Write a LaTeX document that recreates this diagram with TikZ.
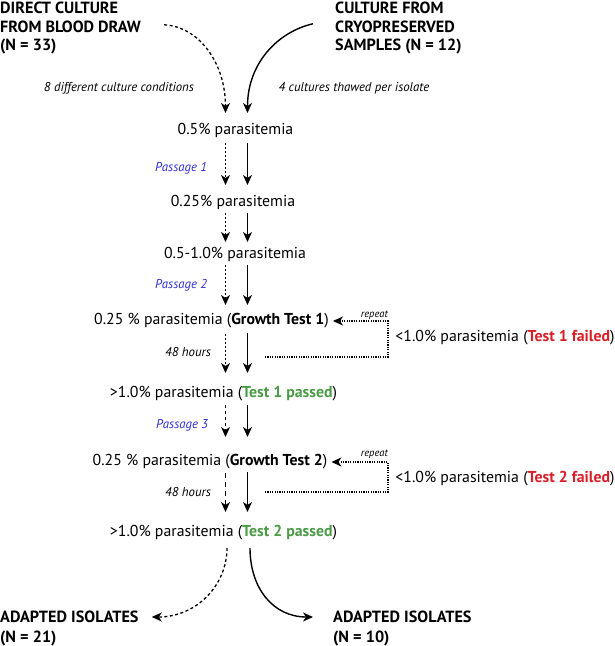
\documentclass[tikz,border=0pt]{standalone}
\usepackage{fontspec}
\setmainfont{PT Sans}
\usetikzlibrary{arrows.meta,calc}
\definecolor{pblue}{HTML}{2E2ED0}
\definecolor{pgreen}{HTML}{4A9A46}
\definecolor{pred}{HTML}{D81E26}
\tikzset{
  txt/.style={inner sep=0pt, font=\fontsize{15.8}{18}\selectfont},
  head/.style={inner sep=0pt, align=left, font=\bfseries\fontsize{16.2}{18.5}\selectfont},
  headb/.style={inner sep=0pt, align=left, font=\bfseries\fontsize{16.2}{20}\selectfont},
  lbl/.style={inner sep=0pt, font=\itshape\fontsize{12.8}{14}\selectfont},
  plbl/.style={lbl, text=pblue},
  rep/.style={inner sep=0pt, font=\itshape\fontsize{10.5}{11}\selectfont},
  tipped/.style={-{Stealth[length=10pt,width=9pt,inset=3pt]}},
  solidarr/.style={tipped, line width=1.4pt},
  dotarr/.style={tipped, line width=1.4pt, dash pattern=on 2pt off 2pt},
  dasharrA/.style={tipped, line width=1.4pt, dash pattern=on 3pt off 3pt},
  dasharrB/.style={tipped, line width=1.4pt, dash pattern=on 5pt off 4pt},
  curvedash/.style={tipped, line width=1.3pt, dash pattern=on 3pt off 2.5pt},
  loopline/.style={line width=1.2pt, dash pattern=on 1.2pt off 1.2pt},
  looparr/.style={loopline, tipped},
}
\begin{document}
\begin{tikzpicture}[x=1pt,y=-1pt]
\useasboundingbox (0,0) rectangle (614,646);

\coordinate (xl) at (225.5,0);
\coordinate (xr) at (247.5,0);

% headings
\node[head, anchor=north west] (h1) at (0,2) {DIRECT CULTURE\\FROM BLOOD DRAW\\(N = 33)};
\node[head, anchor=north west] (h2) at (335,2) {CULTURE FROM\\CRYOPRESERVED\\SAMPLES (N = 12)};
\node[headb, anchor=north west] (h3) at (0,611) {ADAPTED ISOLATES\\(N = 21)};
\node[headb, anchor=north west] (h4) at (333,611) {ADAPTED ISOLATES\\(N = 10)};

% labels
\node[lbl] (l8) at (119,88) {8 different culture conditions};
\node[lbl] (l4) at (354,88) {4 cultures thawed per isolate};
\node[plbl, anchor=west] (pa1) at (155,168) {Passage 1};
\node[plbl, anchor=west] (pa2) at (155,285) {Passage 2};
\node[plbl, anchor=west] (pa3) at (156,425) {Passage 3};
\node[lbl] (h48a) at (188,352) {48 hours};
\node[lbl] (h48b) at (188,492) {48 hours};

% main nodes
\node[txt] (n05) at (235.5,130) {0.5\% parasitemia};
\node[txt] (n025) at (233,202) {0.25\% parasitemia};
\node[txt] (n0510) at (235,254) {0.5-1.0\% parasitemia};
\node[txt] (gt1) at (211.5,321) {0.25 \% parasitemia (\textbf{Growth Test 1})};
\node[txt] (p1) at (223.5,394) {>1.0\% parasitemia (\textbf{\color{pgreen}Test 1 passed})};
\node[txt] (gt2) at (210,462) {0.25 \% parasitemia (\textbf{Growth Test 2}) };
\node[txt] (p2) at (223.5,533) {>1.0\% parasitemia (\textbf{\color{pgreen}Test 2 passed})};
\node[txt] (f1) at (505,338) {<1.0\% parasitemia (\textbf{\color{pred}Test 1 failed})};
\node[txt] (f2) at (505,479) {<1.0\% parasitemia (\textbf{\color{pred}Test 2 failed})};

% top curves
\draw[curvedash] ($(h1.east)+(23,-3.5)$) .. controls +(35,2) and +(0,-50) .. ($(n05.center -| xl)+(0,-17)$);
\draw[solidarr] ($(h2.west)+(-22,-4.5)$) .. controls +(-35,8) and +(0,-50) .. ($(n05.center -| xr)+(0,-17)$);

% vertical arrows
\draw[dotarr] ($(n05.center -| xl)+(0,13)$) -- ($(n025.center -| xl)+(0,-17)$);
\draw[solidarr] ($(n05.center -| xr)+(0,13)$) -- ($(n025.center -| xr)+(0,-17)$);
\draw[dotarr] ($(n025.center -| xl)+(0,11)$) -- ($(n0510.center -| xl)+(0,-12)$);
\draw[solidarr] ($(n025.center -| xr)+(0,11)$) -- ($(n0510.center -| xr)+(0,-12)$);
\draw[dotarr] ($(n0510.center -| xl)+(0,11)$) -- ($(gt1.center -| xl)+(0,-16)$);
\draw[solidarr] ($(n0510.center -| xr)+(0,11)$) -- ($(gt1.center -| xr)+(0,-16)$);
\draw[dotarr] ($(gt1.center -| xl)+(0,13)$) -- ($(p1.center -| xl)+(0,-21)$);
\draw[solidarr] ($(gt1.center -| xr)+(0,12)$) -- ($(p1.center -| xr)+(0,-21)$);
\draw[dasharrA] ($(p1.center -| xl)+(0,11)$) -- ($(gt2.center -| xl)+(0,-25)$);
\draw[solidarr] ($(p1.center -| xr)+(0,11)$) -- ($(gt2.center -| xr)+(0,-25)$);
\draw[dasharrB] ($(gt2.center -| xl)+(0,11)$) -- ($(p2.center -| xl)+(0,-21)$);
\draw[solidarr] ($(gt2.center -| xr)+(0,10)$) -- ($(p2.center -| xr)+(0,-21)$);

% repeat loops
\coordinate (r1) at (265,357);
\coordinate (k1) at (388,357);
\draw[looparr] (r1) -- (k1) |- ($(gt1.east)+(4,0)$);
\node[rep, anchor=base east] (rp1) at (388,317) {repeat};
\coordinate (r2) at (265,492);
\coordinate (k2) at (388,492);
\draw[looparr] (r2) -- (k2) |- ($(gt2.east)+(4,0)$);
\node[rep, anchor=base east] (rp2) at (388,456) {repeat};

% bottom curves
\draw[curvedash] ($(p2.center -| xl)+(1.5,15)$) .. controls +(0,37) and +(45,0) .. ($(h3.north east)+(13,6)$);
\draw[solidarr] ($(p2.center -| xr)+(2.5,15)$) .. controls +(0,40) and +(-40,0) .. ($(h4.north west)+(-20,6)$);
\end{tikzpicture}
\end{document}
